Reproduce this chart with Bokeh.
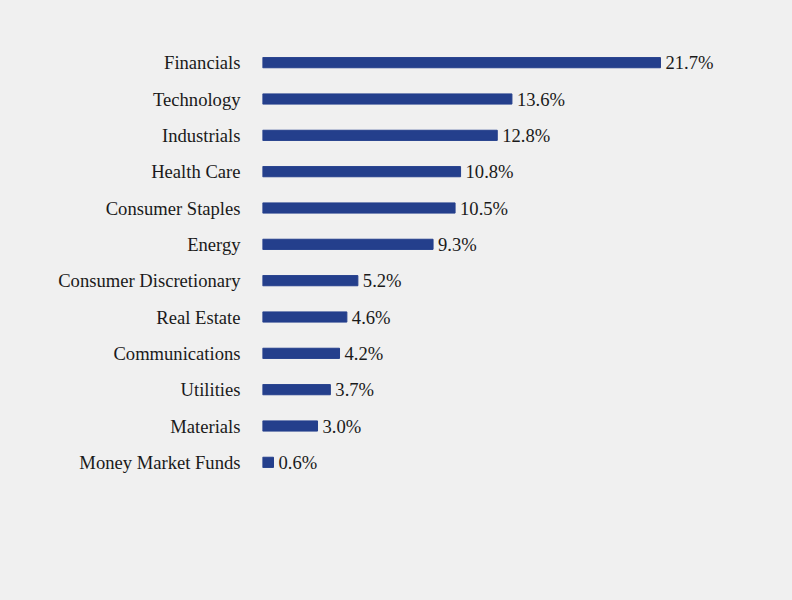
from bokeh.plotting import figure
from bokeh.models import ColumnDataSource, FactorRange, Range1d
from bokeh.core.properties import value
from bokeh.embed import file_html
from bokeh.resources import INLINE

sectors = ["Financials", "Technology", "Industrials", "Health Care", "Consumer Staples",
           "Energy", "Consumer Discretionary", "Real Estate", "Communications",
           "Utilities", "Materials", "Money Market Funds"]
weights = [21.7, 13.6, 12.8, 10.8, 10.5, 9.3, 5.2, 4.6, 4.2, 3.7, 3.0, 0.6]
labels = [f"{w:.1f}%" for w in weights]

BG = "#f0f0f0"
FONT = "Liberation Serif"

src = ColumnDataSource(dict(sector=sectors, weight=weights, label=labels))

p = figure(width=776, height=584, output_backend="svg", toolbar_location=None,
           y_range=FactorRange(factors=list(reversed(sectors))),
           x_range=Range1d(0, 514 / 18.34),
           min_border_left=262, min_border_right=0, min_border_top=44, min_border_bottom=104)
p.background_fill_color = BG
p.border_fill_color = BG
p.outline_line_color = None
p.grid.visible = False
p.xaxis.visible = False

p.hbar(y="sector", right="weight", left=0, height=0.28, color="#243f8c", source=src)
p.text(x="weight", y="sector", text="label", source=src, x_offset=5,
       text_baseline="middle", text_align="left", text_font=value(FONT),
       text_font_size="18.6px", text_color="#1a1a1a")

ax = p.yaxis[0]
ax.axis_line_color = None
ax.major_tick_line_color = None
ax.minor_tick_line_color = None
ax.major_tick_out = 0
ax.major_tick_in = 0
ax.major_label_standoff = 22
ax.major_label_text_font = FONT
ax.major_label_text_font_size = "18.6px"
ax.major_label_text_color = "#1a1a1a"

html = file_html(p, INLINE)
html = html.replace("</head>", f"<style>html,body{{background:{BG} !important;}}</style></head>", 1)
open("out.html", "w").write(html)
